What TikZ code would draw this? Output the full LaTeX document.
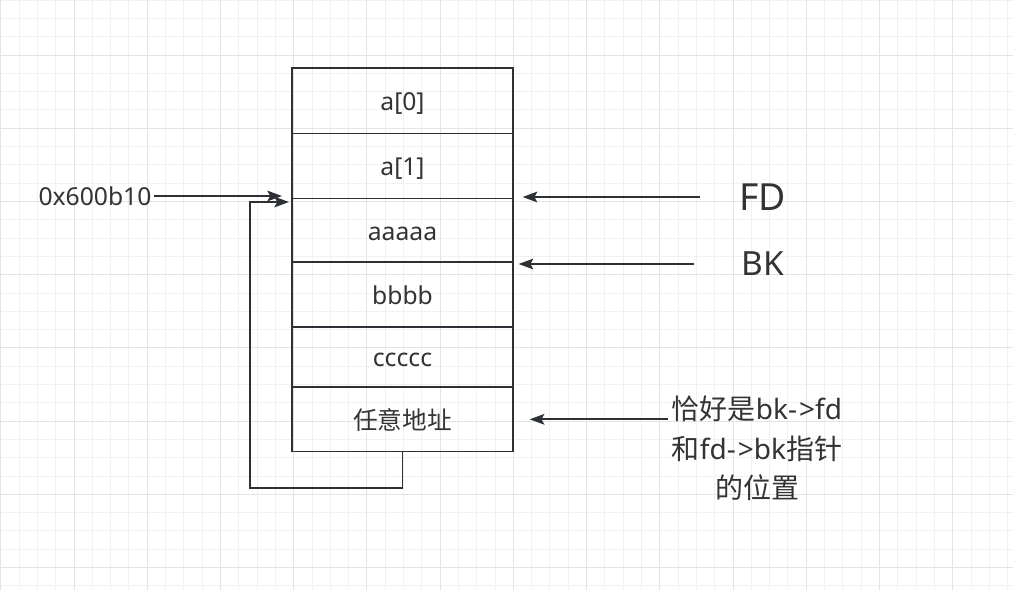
\documentclass[tikz,border=0pt]{standalone}
\usepackage{fontspec}
\setmainfont{Noto Sans}
\newfontfamily\cjk{Noto Sans CJK SC}
\usetikzlibrary{arrows.meta}
\definecolor{linec}{RGB}{45,48,52}
\definecolor{textc}{RGB}{51,51,51}
\definecolor{gridminor}{RGB}{241,241,241}
\definecolor{gridmajor}{RGB}{228,228,228}
\tikzset{
    cell/.style={draw=linec, line width=1.2pt, minimum width=166pt, inner sep=0pt, text height=17pt, text depth=2pt, text=textc, font=\fontsize{18.5}{22}\selectfont},
    arr/.style={draw=linec, line width=1.3pt, -{Stealth[length=11pt, width=8pt, inset=2.2pt]}},
    lbl/.style={text=textc, inner sep=2pt, font=\fontsize{18.5}{22}\selectfont},
    tag/.style={text=textc, inner sep=0pt},
    note/.style={text=textc, inner sep=3pt, align=center, font=\fontsize{21}{29.5}\selectfont}
}

\begin{document}
\begin{tikzpicture}[x=0.75pt, y=-0.75pt]
    \useasboundingbox (0,0) rectangle (1013,590);
    \fill[white] (0,0) rectangle (1013,590);
    % background grid
    \foreach \i in {0,...,55}
        \draw[gridminor, line width=0.75pt] ({0.8+\i*18.306},0) -- ++(0,590);
    \foreach \j in {0,...,32}
        \draw[gridminor, line width=0.75pt] (0,{0.1+\j*18.306}) -- ++(1013,0);
    \foreach \i in {0,...,13}
        \draw[gridmajor, line width=0.75pt] ({0.8+\i*73.224},0) -- ++(0,590);
    \foreach \j in {0,...,7}
        \draw[gridmajor, line width=0.75pt] (0,{55+\j*73.224}) -- ++(1013,0);

    % chunk
    \node[cell, minimum height=49pt] (c0) at (402.5,100.7) {a[0]};
    \node[cell, minimum height=48.75pt] (c1) at (402.5,165.8) {a[1]};
    \node[cell, minimum height=47.5pt] (c2) at (402.5,230) {aaaaa};
    \node[cell, minimum height=48.75pt] (c3) at (402.5,294.2) {bbbb};
    \node[cell, minimum height=45.2pt] (c4) at (402.5,356.8) {ccccc};
    \node[cell, minimum height=48.5pt] (c5) at (402.5,419.3) {\cjk 任意地址};

    % address
    \node[lbl] (addr) at (95,196) {0x600b10};
    \coordinate (in1) at (282,196);
    \draw[arr] (addr.east) -- (in1);
    \coordinate (turn) at (250,488);
    \coordinate (in2) at (289,202);
    \draw[arr] (c5.south) |- (turn) |- (in2);

    % pointers
    \node[tag, font=\fontsize{28}{32}\selectfont] (fd) at (762.5,197) {FD};
    \draw[arr, shorten <=29pt, shorten >=6.5pt] (fd.west) -- (fd.west -| c2.east);
    \node[tag, font=\fontsize{25}{30}\selectfont] (bk) at (763,264) {BK};
    \draw[arr, shorten <=36pt, shorten >=3.5pt] (bk.west) -- (bk.west -| c3.east);

    \node[note] (note) at (757,448.5) {{\cjk 恰好是}bk-\kern1.5pt>fd\\{\cjk 和}fd-\kern1.5pt>bk{\cjk 指针}\\{\cjk 的位置}};
    \draw[arr, shorten >=11.8pt] (note.west |- c5.east) -- (c5.east);
\end{tikzpicture}
\end{document}
